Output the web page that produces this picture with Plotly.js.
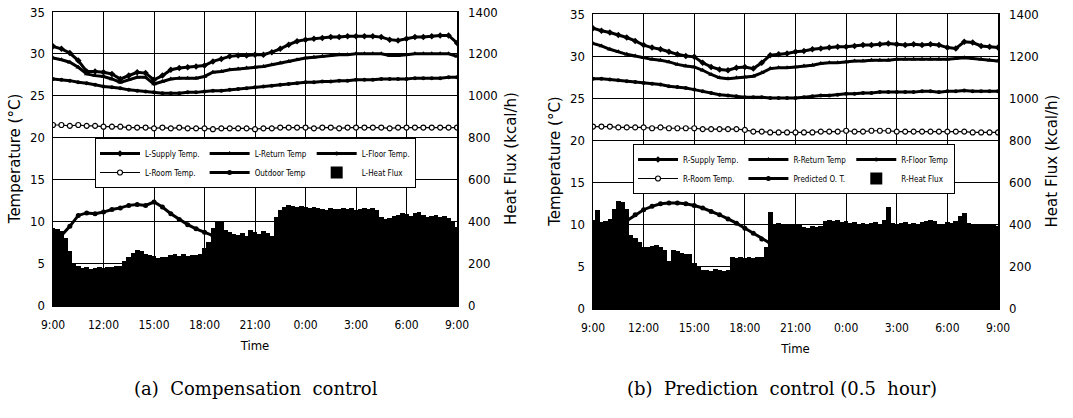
<!DOCTYPE html>
<html>
<head>
<meta charset="utf-8">
<script src="https://cdn.plot.ly/plotly-3.0.1.min.js"></script>
<style>
html,body{margin:0;padding:0;background:#fff;}
#chart{width:1073px;height:418px;}
</style>
</head>
<body>
<div id="chart"></div>
<script>
// ---- time grid (hours after 9:00) ----
const tickHours = [0, 3, 6, 9, 12, 15, 18, 21, 24];
const tickLabels = ['9:00', '12:00', '15:00', '18:00', '21:00', '0:00', '3:00', '6:00', '9:00'];
const hourStepLine = 0.5;   // temperature records every 30 min
const hourStepFlux = 0.25;  // heat flux records every 15 min

// ---- (a) Compensation control ----
const L_supply = [30.9,30.6,30.1,29.2,27.9,27.9,27.8,27.6,27.0,27.4,27.8,27.7,26.9,27.4,28.1,28.3,28.4,28.5,28.6,29.1,29.4,29.7,29.8,29.8,29.9,29.9,30.2,30.6,31.1,31.5,31.7,31.8,31.9,32.0,32.0,32.1,32.1,32.1,32.1,32.0,31.7,31.6,31.8,32.0,32.0,32.1,32.2,32.2,31.3];
const L_return = [29.5,29.3,29.0,28.4,27.6,27.4,27.3,27.0,26.6,26.9,27.2,27.2,26.4,26.7,27.0,27.1,27.1,27.1,27.3,27.8,27.9,28.1,28.2,28.3,28.4,28.5,28.7,28.9,29.1,29.3,29.5,29.6,29.7,29.8,29.9,29.9,30.0,30.0,30.0,30.0,29.8,29.8,29.9,30.0,30.0,30.0,30.0,30.0,29.7];
const L_floor = [27.0,26.9,26.8,26.6,26.5,26.3,26.1,26.0,25.9,25.7,25.6,25.5,25.4,25.3,25.3,25.3,25.4,25.4,25.5,25.6,25.6,25.7,25.8,25.9,26.0,26.1,26.2,26.3,26.4,26.5,26.6,26.6,26.7,26.7,26.8,26.8,26.9,26.9,26.9,27.0,27.0,27.0,27.0,27.1,27.1,27.1,27.1,27.2,27.2];
const L_room = [21.5,21.5,21.4,21.5,21.4,21.4,21.3,21.3,21.3,21.2,21.2,21.2,21.1,21.2,21.1,21.2,21.1,21.1,21.1,21.0,21.1,21.1,21.1,21.1,21.0,21.1,21.1,21.2,21.2,21.2,21.2,21.1,21.2,21.2,21.1,21.2,21.2,21.2,21.2,21.2,21.1,21.2,21.2,21.2,21.2,21.2,21.2,21.2,21.2];
const L_outdoor = [7.6,8.3,9.4,10.7,11.0,10.9,11.1,11.4,11.6,11.9,12.0,11.9,12.3,11.7,10.9,10.2,9.6,9.1,8.7,8.3];
const L_heatFlux = [370,365,355,320,260,200,185,175,180,172,178,182,178,182,180,185,188,210,230,250,262,258,245,240,232,225,228,230,240,245,235,242,232,238,240,245,270,300,370,398,395,360,350,340,335,345,330,360,350,340,355,345,330,420,455,470,480,475,468,472,470,465,470,462,460,455,462,458,460,465,458,462,455,460,465,458,462,455,420,410,415,425,430,440,435,425,440,445,430,420,425,430,420,425,415,400,375];

// ---- (b) Prediction control (0.5 hour) ----
const R_supply = [33.3,33.0,32.8,32.5,32.2,31.8,31.3,31.0,30.8,30.5,30.2,30.0,29.9,29.2,28.7,28.4,28.3,28.6,28.7,28.5,29.2,30.1,30.2,30.3,30.5,30.6,30.8,30.9,31.0,31.1,31.1,31.2,31.3,31.3,31.4,31.5,31.4,31.3,31.4,31.3,31.4,31.3,31.0,30.9,31.7,31.6,31.2,31.1,31.0];
const R_return = [31.5,31.2,30.8,30.5,30.2,30.0,29.8,29.6,29.5,29.3,29.0,28.8,28.7,28.3,27.8,27.4,27.3,27.4,27.5,27.6,28.0,28.5,28.6,28.6,28.7,28.8,28.9,29.1,29.2,29.2,29.3,29.4,29.4,29.5,29.5,29.5,29.6,29.6,29.6,29.6,29.6,29.6,29.6,29.7,29.8,29.7,29.6,29.5,29.4];
const R_floor = [27.3,27.3,27.2,27.1,27.0,26.9,26.8,26.7,26.6,26.4,26.3,26.2,26.0,25.8,25.6,25.4,25.3,25.2,25.1,25.1,25.1,25.0,25.0,25.0,25.0,25.1,25.2,25.3,25.3,25.4,25.5,25.5,25.6,25.6,25.7,25.7,25.7,25.7,25.7,25.8,25.8,25.7,25.8,25.8,25.9,25.8,25.8,25.8,25.8];
const R_room = [21.6,21.6,21.6,21.5,21.5,21.5,21.5,21.4,21.5,21.4,21.4,21.4,21.4,21.3,21.3,21.3,21.3,21.3,21.2,21.0,21.0,20.9,20.9,20.9,20.9,20.9,20.9,21.0,21.0,21.0,21.1,21.0,21.0,21.1,21.1,21.1,21.0,21.0,21.0,21.0,21.0,21.0,21.0,21.0,21.0,20.9,20.9,20.9,20.9];
const R_predictedOT = [5.9,7.4,8.6,9.6,10.4,11.1,11.7,12.1,12.4,12.5,12.5,12.4,12.2,11.9,11.5,11.1,10.6,10.1,9.5,8.9,8.2,7.7];
const R_heatFlux = [420,465,410,412,425,470,510,505,470,350,332,315,292,290,295,298,292,275,222,276,270,262,258,255,215,200,180,182,178,185,180,178,182,244,240,242,238,245,240,242,245,290,455,400,405,400,395,402,398,395,385,380,390,385,392,412,418,415,420,410,415,405,408,400,403,398,405,410,402,420,480,405,400,405,408,402,405,400,408,412,420,415,400,395,410,405,412,440,452,405,398,400,395,402,398,395,390];

// ---- names ----
const L_names = ['L-Supply Temp.', 'L-Return Temp', 'L-Floor Temp.', 'L-Room Temp.', 'Outdoor Temp', 'L-Heat Flux'];
const R_names = ['R-Supply Temp.', 'R-Return Temp', 'R-Floor Temp', 'R-Room Temp.', 'Predicted O. T.', 'R-Heat Flux'];
const captions = ['(a)  Compensation  control', '(b)  Prediction  control (0.5  hour)'];

function hours(n, step) { return Array.from({length: n}, (_, i) => i * step); }

function lineTrace(y, name, xa, ya, lg, grp, symbol, opts) {
  opts = opts || {};
  return {
    type: 'scatter', mode: 'lines+markers',
    x: hours(y.length, hourStepLine), y: y, name: name,
    xaxis: xa, yaxis: ya, legend: lg, legendgroup: grp,
    line: {color: 'black', width: opts.lw || 3},
    marker: {symbol: symbol, size: opts.ms || 5, color: opts.mc || 'black',
             line: {color: 'black', width: opts.mlw || 0}},
    hoverinfo: 'x+y+name'
  };
}
function fluxTrace(y, name, xa, ya, lg, grp) {
  return {
    type: 'bar', x: hours(y.length, hourStepFlux), y: y, name: name,
    xaxis: xa, yaxis: ya, legend: lg, legendgroup: grp,
    width: hourStepFlux * 1.12,
    marker: {color: 'black', line: {color: 'black', width: 0}}
  };
}

const data = [
  lineTrace(L_supply, L_names[0], 'x', 'y', 'legend', 'a1', 'diamond'),
  lineTrace(L_return, L_names[1], 'x', 'y', 'legend', 'a2', 'triangle-up'),
  lineTrace(L_floor, L_names[2], 'x', 'y', 'legend', 'a3', 'circle', {ms: 4}),
  lineTrace(L_room, L_names[3], 'x', 'y', 'legend', 'a1', 'circle', {lw: 1.2, ms: 5, mc: 'white', mlw: 1.2}),
  lineTrace(L_outdoor, L_names[4], 'x', 'y', 'legend', 'a2', 'circle', {ms: 5}),
  fluxTrace(L_heatFlux, L_names[5], 'x', 'y2', 'legend', 'a3'),

  lineTrace(R_supply, R_names[0], 'x2', 'y3', 'legend2', 'b1', 'diamond'),
  lineTrace(R_return, R_names[1], 'x2', 'y3', 'legend2', 'b2', 'triangle-up'),
  lineTrace(R_floor, R_names[2], 'x2', 'y3', 'legend2', 'b3', 'circle', {ms: 4}),
  lineTrace(R_room, R_names[3], 'x2', 'y3', 'legend2', 'b1', 'circle', {lw: 1.2, ms: 5, mc: 'white', mlw: 1.2}),
  lineTrace(R_predictedOT, R_names[4], 'x2', 'y3', 'legend2', 'b2', 'circle', {ms: 5}),
  fluxTrace(R_heatFlux, R_names[5], 'x2', 'y4', 'legend2', 'b3')
];

const tickFont = {family: 'DejaVu Sans Condensed, Liberation Sans Narrow, DejaVu Sans, sans-serif', size: 12, color: 'black'};
const yTickFont = {family: 'DejaVu Sans Condensed, Liberation Sans Narrow, DejaVu Sans, sans-serif', size: 13, color: 'black'};
const titleFont = {family: 'DejaVu Sans, sans-serif', size: 15, color: 'black'};

function xAxis(domain, anchor) {
  return {
    domain: domain, anchor: anchor, range: [0, 24],
    tickvals: tickHours, ticktext: tickLabels, tickfont: tickFont,
    showgrid: true, gridcolor: 'black', gridwidth: 1,
    showline: true, linecolor: 'black', linewidth: 1.5, mirror: true,
    zeroline: false, ticks: '', ticklabelstandoff: 8,
    title: {text: 'Time', font: {family: 'DejaVu Sans Condensed, DejaVu Sans, sans-serif', size: 13, color: 'black'}, standoff: 10}
  };
}
function tempAxis(domain, anchor) {
  return {
    domain: domain, anchor: anchor, range: [0, 35], dtick: 5, side: 'left',
    tickfont: yTickFont, showgrid: true, gridcolor: 'black', gridwidth: 1,
    showline: true, linecolor: 'black', linewidth: 1.5, mirror: true,
    zeroline: false, ticks: '', ticklabelstandoff: 4,
    title: {text: 'Temperature (°C)', font: titleFont, standoff: 6}
  };
}
function fluxAxis(overlay, anchor) {
  return {
    overlaying: overlay, anchor: anchor, side: 'right', range: [0, 1400], dtick: 200,
    tickfont: yTickFont, showgrid: false, zeroline: false, showline: false, ticks: '',
    ticklabelstandoff: 10,
    title: {text: 'Heat Flux (kcal/h)', font: titleFont, standoff: 8}
  };
}
function legendBox(x, y) {
  return {
    x: x, y: y, xanchor: 'left', yanchor: 'top', orientation: 'h',
    traceorder: 'grouped', bgcolor: 'white', bordercolor: 'black', borderwidth: 1,
    itemwidth: 40,
    font: {family: 'DejaVu Sans Condensed, Liberation Sans Narrow, DejaVu Sans, sans-serif', size: 8, color: 'black'},
    itemclick: false, itemdoubleclick: false
  };
}

const layout = {
  width: 1073, height: 418,
  margin: {l: 0, r: 0, t: 0, b: 0},
  paper_bgcolor: 'white', plot_bgcolor: 'white',
  bargap: 0, barmode: 'overlay',
  xaxis: xAxis([53/1073, 457/1073], 'y'),
  yaxis: tempAxis([1 - 305/418, 1 - 12/418], 'x'),
  yaxis2: fluxAxis('y', 'x'),
  xaxis2: xAxis([593/1073, 998/1073], 'y3'),
  yaxis3: tempAxis([1 - 308/418, 1 - 14/418], 'x2'),
  yaxis4: fluxAxis('y3', 'x2'),
  legend: legendBox(95/1073, 1 - 138/418),
  legend2: legendBox(633/1073, 1 - 144/418),
  annotations: [
    {text: captions[0], xref: 'paper', yref: 'paper', x: 256/1073, y: 1 - 388/418,
     xanchor: 'center', yanchor: 'middle', showarrow: false,
     font: {family: 'DejaVu Serif, Liberation Serif, serif', size: 18, color: 'black'}},
    {text: captions[1], xref: 'paper', yref: 'paper', x: 782/1073, y: 1 - 388/418,
     xanchor: 'center', yanchor: 'middle', showarrow: false,
     font: {family: 'DejaVu Serif, Liberation Serif, serif', size: 18, color: 'black'}}
  ],
  showlegend: true
};

Plotly.newPlot('chart', data, layout, {staticPlot: true, displayModeBar: false});
</script>
</body>
</html>
